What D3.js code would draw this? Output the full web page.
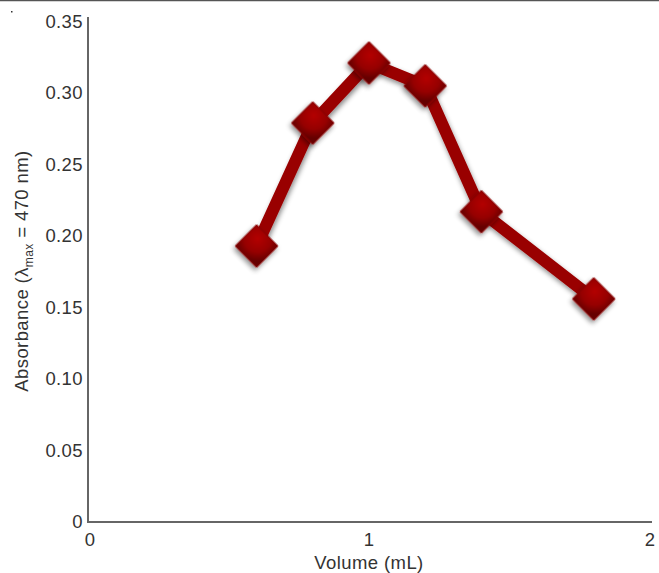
<!DOCTYPE html>
<html>
<head>
<meta charset="utf-8">
<script src="https://cdn.jsdelivr.net/npm/d3@7"></script>
<style>
  body { margin: 0; background: #fff; }
  text { font-family: "Liberation Sans", Arial, sans-serif; fill: #333; letter-spacing: 0.4px; }
</style>
</head>
<body>
<div id="chart"></div>
<script>
// data
var volume = [0.6, 0.8, 1.0, 1.2, 1.4, 1.8];
var absorbance = [0.193, 0.279, 0.321, 0.305, 0.217, 0.156];
var xTicks = [0, 1, 2];
var yTicks = [0, 0.05, 0.10, 0.15, 0.20, 0.25, 0.30, 0.35];

var W = 659, H = 573;
var margin = {top: 21.5, right: 9, bottom: 51, left: 88};
var fs = "18.5px";

var svg = d3.select("#chart").append("svg")
    .attr("width", W)
    .attr("height", H);

var defs = svg.append("defs");
var grad = defs.append("radialGradient")
    .attr("id", "dgrad")
    .attr("cx", "35%").attr("cy", "30%").attr("r", "75%");
grad.append("stop").attr("offset", "0%").attr("stop-color", "#b30000");
grad.append("stop").attr("offset", "60%").attr("stop-color", "#960000");
grad.append("stop").attr("offset", "100%").attr("stop-color", "#650000");

var shadow = defs.append("filter").attr("id", "shadow")
    .attr("x", "-50%").attr("y", "-50%").attr("width", "200%").attr("height", "200%");
shadow.append("feDropShadow")
    .attr("dx", 1).attr("dy", 3).attr("stdDeviation", 2.5)
    .attr("flood-color", "#000").attr("flood-opacity", 0.45);

// top border
svg.append("line")
    .attr("x1", 0).attr("x2", W).attr("y1", 0.5).attr("y2", 0.5)
    .attr("stroke", "#555").attr("stroke-width", 1.5);
svg.append("rect").attr("x", 11).attr("y", 11).attr("width", 1.5).attr("height", 1.5).attr("fill", "#333");

var x = d3.scaleLinear().domain([0, 2]).range([margin.left, 650]);
var y = d3.scaleLinear().domain([0, 0.35]).range([522, margin.top]);

// axes lines
svg.append("line")
    .attr("x1", x(0)).attr("x2", x(0))
    .attr("y1", 17).attr("y2", y(0))
    .attr("stroke", "#666").attr("stroke-width", 2);
svg.append("line")
    .attr("x1", x(0) - 1).attr("x2", 652)
    .attr("y1", y(0)).attr("y2", y(0))
    .attr("stroke", "#666").attr("stroke-width", 2);

// y tick labels
svg.append("g").selectAll("text")
    .data(yTicks)
    .enter().append("text")
    .attr("x", 83)
    .attr("y", function(d) { return y(d); })
    .attr("dy", "0.35em")
    .attr("text-anchor", "end")
    .style("font-size", fs)
    .text(function(d) { return d === 0 ? "0" : d3.format(".2f")(d); });

// x tick labels
svg.append("g").selectAll("text")
    .data(xTicks)
    .enter().append("text")
    .attr("x", function(d) { return x(d) + (d === 0 ? 2 : 0); })
    .attr("y", 540)
    .attr("dy", "0.35em")
    .attr("text-anchor", "middle")
    .style("font-size", fs)
    .text(function(d) { return d; });

// axis titles
svg.append("text")
    .attr("x", x(1)).attr("y", 563)
    .attr("dy", "0.35em")
    .attr("text-anchor", "middle")
    .style("font-size", fs)
    .text("Volume (mL)");

var ylab = svg.append("text")
    .attr("transform", "translate(22," + 271 + ") rotate(-90)")
    .attr("dy", "0.35em")
    .attr("text-anchor", "middle")
    .style("font-size", fs);
ylab.append("tspan").text("Absorbance (\u03bb");
ylab.append("tspan").attr("dy", "5").style("font-size", "12px").text("max");
ylab.append("tspan").attr("dy", "-5").text(" = 470 nm)");

// series
var pts = volume.map(function(v, i) { return [v, absorbance[i]]; });
var line = d3.line()
    .x(function(d) { return x(d[0]); })
    .y(function(d) { return y(d[1]); });

svg.append("path")
    .datum(pts)
    .attr("d", line)
    .attr("fill", "none")
    .attr("stroke", "#990000")
    .attr("stroke-width", 12)
    .attr("stroke-linejoin", "round")
    .attr("filter", "url(#shadow)");

svg.append("g").selectAll("path")
    .data(pts)
    .enter().append("path")
    .attr("d", d3.symbol().type(d3.symbolSquare).size(30 * 30))
    .attr("transform", function(d) {
        return "translate(" + x(d[0]) + "," + y(d[1]) + ") rotate(45)";
    })
    .attr("fill", "url(#dgrad)")
    .attr("stroke", "#880000")
    .attr("stroke-width", 1)
    .attr("filter", "url(#shadow)");
</script>
</body>
</html>
